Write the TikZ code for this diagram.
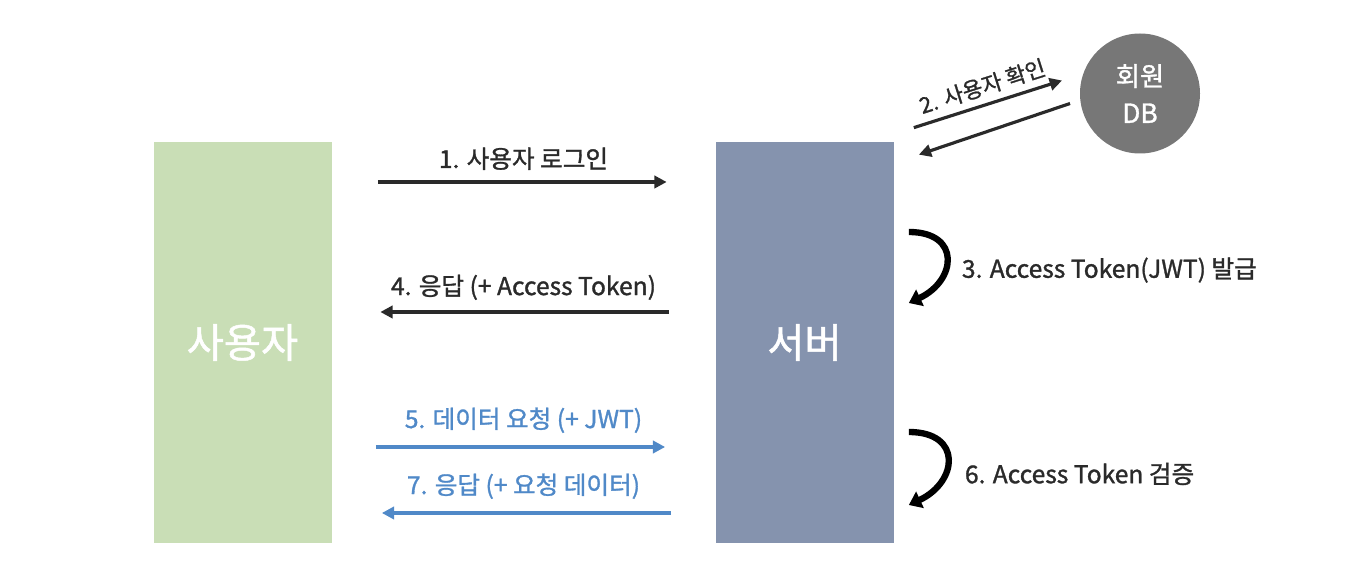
\documentclass[tikz,border=0pt]{standalone}
\usepackage{fontspec}
\setmainfont{Noto Sans CJK KR}
\newfontfamily\medfont{Noto Sans CJK KR}[FakeBold=1.2]
\usepackage{xcolor}
\definecolor{userGreen}{HTML}{C9DEB6}
\definecolor{serverBlue}{HTML}{8593AE}
\definecolor{dbGray}{HTML}{777777}
\definecolor{msgBlue}{HTML}{5089C8}
\definecolor{textDark}{HTML}{2A2A2A}
\usepackage{tikz}
\usetikzlibrary{arrows.meta, positioning, calc}

\begin{document}
\begin{tikzpicture}[
    font=\medfont\fontsize{14pt}{16pt}\selectfont,
    actorBox/.style={draw=none, minimum width=3.56cm, minimum height=8.02cm, inner sep=0pt, text=white, font=\medfont\fontsize{23pt}{27pt}\selectfont},
    dbNode/.style={circle, fill=dbGray, minimum size=2.4cm, inner sep=0pt, align=center, text=white, font=\medfont\fontsize{15pt}{21pt}\selectfont},
    msgBlack/.style={draw=textDark, line width=1.8pt, -{Triangle[length=7pt,width=7pt]}, shorten <=0.92cm, shorten >=0.97cm},
    msgBlueArr/.style={draw=msgBlue, line width=2.1pt, -{Triangle[length=7pt,width=7pt]}, shorten <=0.88cm, shorten >=1.0cm},
    dbArr/.style={draw=textDark, line width=1.8pt, -{Triangle[length=7pt,width=7pt]}},
    selfArr/.style={draw=black, line width=3.6pt, -{Triangle[length=7pt,width=10pt]}},
    msgLabel/.style={text=textDark, inner sep=1pt},
    blueLabel/.style={text=msgBlue, inner sep=1pt}
]
\useasboundingbox (0,0) rectangle (27.32,-11.64);

% Actors
\node[actorBox, fill=userGreen] (user) at (4.85,-6.85) {사용자};
\node[actorBox, fill=serverBlue] (server) at (16.09,-6.85) {서버};
\node[dbNode] (db) at (22.8,-1.87) {회원\\DB};

% 1. login request
\draw[msgBlack] (user.east |- 0,-3.64) -- node[msgLabel, above=5pt] {1. 사용자 로그인} (server.west |- 0,-3.64);

% 2. user check against DB
\coordinate (chkA) at ($(server.north east)+(0.4,0.28)$);
\coordinate (chkB) at ($(db.center)+(-1.56,0.26)$);
\coordinate (chkC) at ($(db.center)+(-1.4,-0.2)$);
\coordinate (chkD) at ($(server.north east)+(0.5,-0.26)$);
\draw[dbArr] (chkA) -- node[msgLabel, above=3pt, sloped, font=\medfont\fontsize{12.5pt}{14pt}\selectfont] {2. 사용자 확인} (chkB);
\draw[dbArr] (chkC) -- (chkD);

% 3. token issue
\coordinate (issA) at ($(server.east)+(0.3,2.21)$);
\coordinate (issB) at ($(server.east)+(0.3,0.79)$);
\draw[selfArr] (issA) to[out=0, in=25, looseness=1.9] (issB);
\node[msgLabel, anchor=west] (issLbl) at ($(server.east)+(1.32,1.45)$) {3. Access Token(JWT) 발급};

% 4. response with token
\draw[msgBlack] (server.west |- 0,-6.24) -- node[msgLabel, above=5pt] {4. 응답 (+ Access Token)} (user.east |- 0,-6.24);

% 5. data request
\draw[msgBlueArr] (user.east |- 0,-8.94) -- node[blueLabel, above=6pt] {5. 데이터 요청 (+ JWT)} (server.west |- 0,-8.94);

% 6. token check
\coordinate (verA) at ($(server.east)+(0.3,-1.79)$);
\coordinate (verB) at ($(server.east)+(0.3,-3.25)$);
\draw[selfArr] (verA) to[out=0, in=25, looseness=1.9] (verB);
\node[msgLabel, anchor=west] (verLbl) at ($(server.east)+(1.38,-2.63)$) {6. Access Token 검증};

% 7. response with data
\draw[msgBlueArr] (server.west |- 0,-10.26) -- node[blueLabel, above=6pt] {7. 응답 (+ 요청 데이터)} (user.east |- 0,-10.26);

\end{tikzpicture}
\end{document}
